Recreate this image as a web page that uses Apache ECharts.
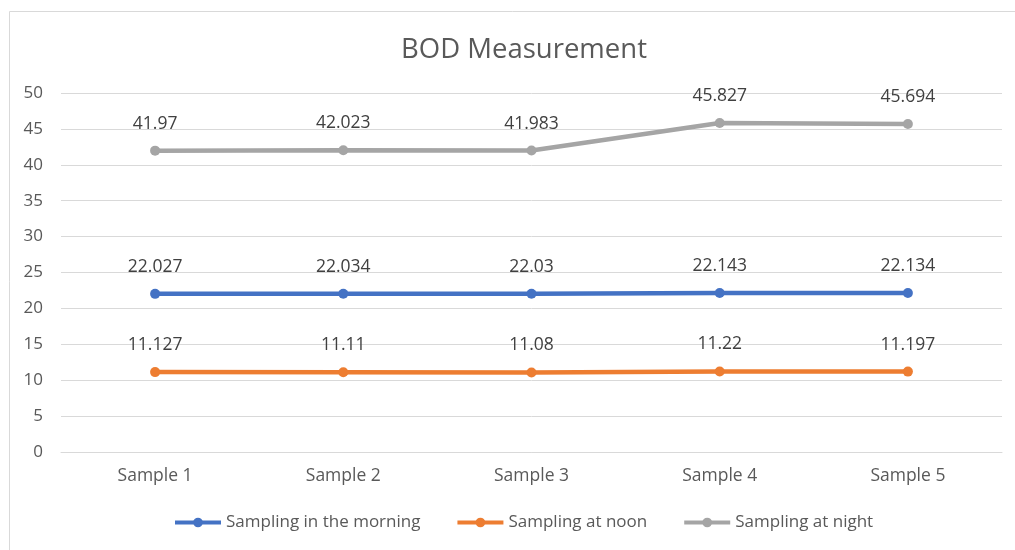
<!DOCTYPE html>
<html><head><meta charset="utf-8">
<script src="https://cdn.jsdelivr.net/npm/echarts@6/dist/echarts.min.js"></script>
<style>html,body{margin:0;padding:0;background:#fff}#c{width:1015px;height:550px}</style>
</head><body><div id="c"></div>
<script>
var categories = ['Sample 1','Sample 2','Sample 3','Sample 4','Sample 5'];
var morning = [22.027, 22.034, 22.03, 22.143, 22.134];
var noon = [11.127, 11.11, 11.08, 11.22, 11.197];
var night = [41.97, 42.023, 41.983, 45.827, 45.694];
var seriesNames = ['Sampling in the morning','Sampling at noon','Sampling at night'];
var colors = ['#4472C4','#ED7D31','#A5A5A5'];
var font = '"Open Sans", "Noto Sans", sans-serif';
function mk(name, data, color){
  return {name:name,type:'line',data:data,symbol:'circle',symbolSize:10,
    lineStyle:{width:4.5,color:color},itemStyle:{color:color},
    label:{show:true,position:'top',distance:5,offset:[0,-8],color:'#404040',fontSize:17.5,fontFamily:font},
    animation:false};
}
var chart = echarts.init(document.getElementById('c'));
chart.setOption({
  animation:false,
  graphic:[{type:'rect',shape:{x:9.5,y:11.5,width:1010,height:545},style:{fill:'none',stroke:'#D9D9D9',lineWidth:1},silent:true}],
  title:{text:'BOD Measurement',left:396,top:31,textStyle:{fontFamily:font,fontSize:27.5,fontWeight:'normal',color:'#595959'}},
  legend:{bottom:14,left:168,itemWidth:46,itemHeight:12,itemGap:35,textStyle:{fontFamily:font,fontSize:17,color:'#595959'},
    lineStyle:{width:4},
    data:seriesNames},
  grid:{left:61,right:13,top:93,bottom:98},
  xAxis:{type:'category',data:categories,boundaryGap:true,
    axisLine:{lineStyle:{color:'#D9D9D9'}},axisTick:{show:false},
    axisLabel:{color:'#595959',fontSize:17.5,fontFamily:font,margin:15}},
  yAxis:{type:'value',min:0,max:50,interval:5,
    axisLine:{show:false},axisTick:{show:false},
    splitLine:{lineStyle:{color:'#D9D9D9'}},
    axisLabel:{color:'#595959',fontSize:17,fontFamily:font,margin:18}},
  series:[mk(seriesNames[0],morning,colors[0]),mk(seriesNames[1],noon,colors[1]),mk(seriesNames[2],night,colors[2])]
});
</script></body></html>
